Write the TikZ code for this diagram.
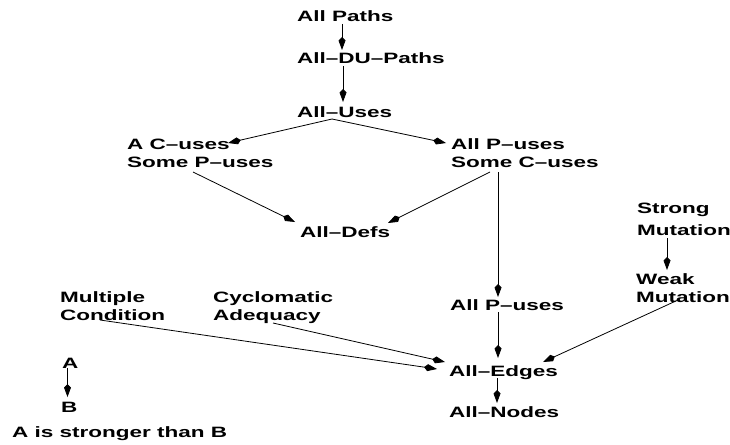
\documentclass[tikz,border=0pt]{standalone}
\usepackage{fontspec}
\setmainfont{Liberation Sans}[FakeStretch=1.5]
\usetikzlibrary{arrows.meta,calc}
\newcommand{\twolines}[3][0pt]{\begin{tabular}[t]{@{}l@{}}#2\\[#1]#3\end{tabular}}
\begin{document}
\begin{tikzpicture}[x=1pt,y=-1pt,
  lab/.style={anchor=base west, inner sep=0pt, font=\bfseries\fontsize{15}{18}\selectfont},
  arr/.style={-{Kite[length=13pt,width=7pt,inset=3.5pt]}, line width=0.8pt}]
\useasboundingbox (0,0) rectangle (730,444);
\node[lab] (ap)  at (297,21.5)  {All Paths};
\node[lab] (adu) at (297,63.5)  {All–DU–Paths};
\node[lab] (au)  at (297,117.5) {All–Uses};
\node[lab] (acu) at (127,149.5) {\twolines{A C–uses}{Some P–uses}};
\node[lab] (apc) at (451,149.5) {\twolines{All P–uses}{Some C–uses}};
\node[lab] (ad)  at (300,237.5) {All–Defs};
\node[lab] (sm)  at (637,213.5) {\twolines[4pt]{Strong}{Mutation}};
\node[lab] (wm)  at (636,284.5) {\twolines{Weak}{Mutation}};
\node[lab] (apl) at (450,310)   {All P–uses};
\node[lab] (mc)  at (60,302.5)  {\twolines{Multiple}{Condition}};
\node[lab] (ca)  at (213,302.5) {\twolines{Cyclomatic}{Adequacy}};
\node[lab] (ae)  at (449,376.5) {All–Edges};
\node[lab] (an)  at (449,417.5) {All–Nodes};
\node[lab] (la)  at (62,368)    {A};
\node[lab] (lb)  at (61,412.5)  {B};
\node[lab] (leg) at (12,437.5)  {A is stronger than B};

\draw[arr] ($(ap.base west)+(45,2.5)$) -- ($(adu.base west)+(45,-13.5)$);
\draw[arr] ($(adu.base west)+(46,2.5)$) -- ($(au.base west)+(46,-15.5)$);
\draw[arr] ($(au.base west)+(35,1.5)$) -- ($(acu.base west)+(101,-6.5)$);
\draw[arr] ($(au.base west)+(35,1.5)$) -- ($(apc.base west)+(-5,-6.5)$);
\draw[arr] ($(acu.base west)+(66,22.5)$) -- ($(ad.base west)+(-5,-15.5)$);
\draw[arr] ($(apc.base west)+(39,22.5)$) -- ($(ad.base west)+(88,-14.5)$);
\draw[arr] ($(apc.base west)+(47,22.5)$) -- ($(apl.base west)+(48,-13)$);
\draw[arr] ($(apl.base west)+(48,2)$) -- ($(ae.base west)+(49,-18.5)$);
\draw[arr] ($(sm.base west)+(30,24.5)$) -- ($(wm.base west)+(31,-14.5)$);
\draw[arr] ($(wm.base west)+(42,15.5)$) -- ($(ae.base west)+(94,-14.5)$);
\draw[arr] ($(mc.base west)+(40,17.5)$) -- ($(ae.base west)+(-12,-7.5)$);
\draw[arr] ($(ca.base west)+(60,20.5)$) -- ($(ae.base west)+(-4,-14.5)$);
\draw[arr] ($(ae.base west)+(48,1.5)$) -- ($(an.base west)+(48,-14.5)$);
\draw[arr] ($(la.base west)+(5.5,0)$) -- ($(lb.base west)+(6.5,-15.5)$);
\end{tikzpicture}
\end{document}
